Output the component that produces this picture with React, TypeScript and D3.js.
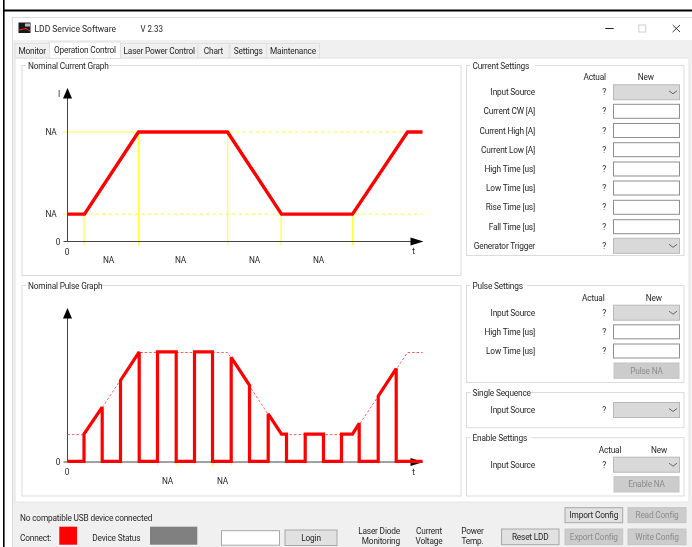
import React from "react";
import * as d3 from "d3";

// ---- data ----
const currentTimes = [0, 17, 71, 160, 214, 285, 340, 355];
const currentLevels = [1, 1, 4, 4, 1, 1, 4, 4];
const currentMarkers = [16.5, 71, 160.3, 213.5, 285];
const currentMarkerLevels = [1, 4, 4, 1, 1];
const currentSpanLabels = ["NA", "NA", "NA", "NA"];
const currentSpanTimes = [41, 113, 187, 251];
const pulseTimes = [0, 16.5, 16.5, 34.7, 34.7, 53, 53, 71.7, 71.7, 90, 90, 108.7, 108.7, 127, 127, 145, 145, 163.7, 163.7, 182, 182, 200.7, 200.7, 214, 219, 219, 237.7, 237.7, 256, 256, 274, 274, 285, 291.7, 291.7, 310.7, 310.7, 328.7, 328.7, 355];
const pulseLevels = [0, 0, 1, 1.98, 0, 0, 2.96, 4, 0, 0, 4, 4, 0, 0, 4, 4, 0, 0, 3.8, 2.78, 0, 0, 1.74, 1, 1, 0, 0, 1, 1, 0, 0, 1, 1, 1.39, 0, 0, 2.38, 3.39, 0, 0];
const pulseEdgeMarkers = [90, 108.7, 145, 163.7];
const pulseSpanLabels = ["NA", "NA"];
const pulseSpanTimes = [100, 155];
const currentRows = ["Input Source", "Current CW [A]", "Current High [A]", "Current Low [A]", "High Time [us]", "Low Time [us]", "Rise Time [us]", "Fall Time [us]", "Generator Trigger"];
const currentRowIsSelect = [true, false, false, false, false, false, false, false, true];
const currentRowY = [92.3, 111.3, 130.5, 149.7, 169, 188, 207.3, 226.7, 245.8];
const pulseRows = ["Input Source", "High Time [us]", "Low Time [us]"];
const pulseRowIsSelect = [true, false, false];
const pulseRowY = [312.7, 331.8, 351];
const tabNames = ["Monitor", "Operation Control", "Laser Power Control", "Chart", "Settings", "Maintenance"];
const tabEdges = [15, 49.5, 120.5, 198, 230, 266.5, 319.5];

// ---- scales ----
const x = d3.scaleLinear().domain([0, 355]).range([67.5, 422.5]);
const yCurrent = d3.scaleLinear().domain([0, 4]).range([241.5, 132]);
const yPulse = d3.scaleLinear().domain([0, 4]).range([462, 352.5]);

const FONT = "Roboto, 'Liberation Sans', Arial, sans-serif";
const INK = "#262626";
const RED = "#ff0000";
const YEL = "#ffff33";
const FS = 8.3;

function T({ x, y, a = "start", c = INK, s = FS, w, children }: any) {
  return (
    <text x={x} y={y} textAnchor={a} dominantBaseline="central" fontFamily={FONT} fontSize={s} fill={c} letterSpacing={w ? undefined : -0.18} textLength={w} lengthAdjust={w ? "spacingAndGlyphs" : undefined}>
      {children}
    </text>
  );
}

function Group({ x0, y0, x1, y1, title }: any) {
  const w = title.length * 3.7 + 5;
  return (
    <g>
      <rect x={x0} y={y0} width={x1 - x0} height={y1 - y0} fill="none" stroke="#dcdcdc" strokeWidth={1} />
      <rect x={x0 + 4} y={y0 - 3} width={w} height={6} fill="#fff" />
      <T x={x0 + 6} y={y0}>{title}</T>
    </g>
  );
}

function Select({ y }: any) {
  const chevron = d3.line()([[669, y - 1.5], [673, y + 1.5], [677, y - 1.5]]) as string;
  return (
    <g>
      <rect x={613.5} y={y - 7.5} width={66} height={15} fill="#d9d9d9" stroke="#b8b8b8" />
      <path d={chevron} fill="none" stroke="#666" strokeWidth={1} />
    </g>
  );
}

function Input({ y }: any) {
  return <rect x={613.5} y={y - 7} width={66} height={14} fill="#fff" stroke="#8e8e8e" />;
}

function Btn({ x0, x1, y0, y1, label, disabled = false }: any) {
  return (
    <g>
      <rect x={x0} y={y0} width={x1 - x0} height={y1 - y0} fill={disabled ? "#cccccc" : "#e1e1e1"} stroke={disabled ? "#c4c4c4" : "#a8a8a8"} />
      <T x={(x0 + x1) / 2} y={(y0 + y1) / 2} a="middle" c={disabled ? "#8c8c8c" : INK}>{label}</T>
    </g>
  );
}

function Rows({ rows, sel, ys }: any) {
  return rows.map((r: string, i: number) => (
    <g key={i}>
      <T x={535} y={ys[i]} a="end">{r}</T>
      <T x={604} y={ys[i]} a="middle">?</T>
      {sel[i] ? <Select y={ys[i]} /> : <Input y={ys[i]} />}
    </g>
  ));
}

function Axes({ y0, top }: any) {
  const ax = x(0);
  return (
    <g>
      <line x1={ax} x2={ax} y1={top + 8} y2={y0} stroke="#444" strokeWidth={1} />
      <line x1={ax - 4} x2={x(345)} y1={y0} y2={y0} stroke="#444" strokeWidth={1} />
      <path d={`M${ax - 4.5},${top + 10.5}L${ax},${top}L${ax + 4.5},${top + 10.5}Z`} fill="#000" />
      <path d={`M${x(343)},${y0 - 4}L${x(356)},${y0}L${x(343)},${y0 + 4}Z`} fill="#000" />
      <T x={58} y={y0} a="middle">0</T>
      <T x={67} y={y0 + 10} a="middle">0</T>
      <T x={x(346)} y={y0 + 9.5} a="middle">t</T>
    </g>
  );
}

export default function App() {
  const line = d3.line<number>().x((d) => x(currentTimes[d])).y((d) => yCurrent(currentLevels[d]));
  const currentPath = line(currentTimes.map((_, i) => i)) as string;
  const envLine = d3.line<number>().x((d) => x(currentTimes[d])).y((d) => yPulse(currentLevels[d]));
  const envPath = envLine(currentTimes.map((_, i) => i)) as string;
  const pulseLine = d3.line<number>().x((d) => x(pulseTimes[d])).y((d) => yPulse(pulseLevels[d]) - 0.6);
  const pulsePath = pulseLine(pulseTimes.map((_, i) => i)) as string;

  const hi = yCurrent(4);
  const lo = yCurrent(1);
  const z = yCurrent(0);

  return (
    <svg width={692} height={547} viewBox="0 0 692 547" style={{ position: "fixed", left: 0, top: 0, display: "block", filter: "blur(0.35px)" }}>
      <rect width={692} height={547} fill="#fff" />
      {/* black frame */}
      <rect x={3} y={9.5} width={689} height={2} fill="#000" />
      <rect x={3} y={0} width={1.6} height={547} fill="#000" />
      {/* window */}
      <rect x={12.5} y={17.5} width={680} height={530} fill="#fff" stroke="#dcdcdc" />
      <rect x={13} y={40} width={679} height={507} fill="#f0f0f0" />
      <rect x={15} y={58} width={674} height={444} fill="#fff" stroke="#e4e4e4" />
      {/* title bar */}
      <rect x={18.5} y={22.5} width={12} height={10.5} fill="#1a1a1a" />
      <path d="M19,30L26,28.5L30,31" fill="none" stroke="#f22" strokeWidth={1} />
      <rect x={25} y={23.5} width={5} height={3} fill="#bbb" />
      <T x={34.5} y={28.7} s={8.8} w={81.5}>LDD Service Software</T>
      <T x={140.5} y={28.7} s={8.8} w={22.5}>V 2.33</T>
      <line x1={605.3} x2={613.7} y1={28.5} y2={28.5} stroke="#222" strokeWidth={1} />
      <rect x={638.8} y={25} width={7} height={7} fill="none" stroke="#d0d0d0" />
      <path d="M672.7,25L680,32M680,25L672.7,32" stroke="#222" strokeWidth={0.9} />
      {/* tabs */}
      {tabNames.map((t, i) => {
        const active = i === 1;
        const x0 = tabEdges[i];
        const x1 = i === 3 ? 229 : tabEdges[i + 1];
        return (
          <g key={t}>
            <rect x={x0} y={active ? 42 : 43.5} width={x1 - x0} height={active ? 16.5 : 14.5} fill={active ? "#fff" : "#f0f0f0"} stroke="#e0e0e0" />
            <T x={(x0 + x1) / 2} y={active ? 49.5 : 50.8} a="middle">{t}</T>
          </g>
        );
      })}

      {/* graph groups */}
      <Group x0={22} y0={65.5} x1={461} y1={275.5} title="Nominal Current Graph" />
      <Group x0={22} y0={285.5} x1={461} y1={496} title="Nominal Pulse Graph" />

      {/* current graph */}
      <line x1={63} x2={x(71)} y1={hi} y2={hi} stroke={YEL} strokeWidth={1} />
      <line x1={x(71)} x2={x(355)} y1={hi} y2={hi} stroke={YEL} strokeWidth={1} strokeDasharray="3.5 3" />
      <line x1={63} x2={x(355)} y1={lo} y2={lo} stroke={YEL} strokeWidth={1} strokeDasharray="3.5 3" />
      {currentMarkers.map((t, i) => (
        <line key={t} x1={x(t)} x2={x(t)} y1={yCurrent(currentMarkerLevels[i])} y2={z + 4} stroke={YEL} strokeWidth={1.1} />
      ))}
      <Axes y0={z} top={88} />
      <path d={currentPath} fill="none" stroke={RED} strokeWidth={3.4} strokeLinejoin="miter" />
      <T x={51} y={132} a="middle">NA</T>
      <T x={51} y={214} a="middle">NA</T>
      <T x={59} y={94} a="middle">I</T>
      {currentSpanLabels.map((l, i) => (
        <T key={i} x={x(currentSpanTimes[i])} y={260} a="middle">{l}</T>
      ))}

      {/* pulse graph */}
      {pulseEdgeMarkers.map((t) => (
        <line key={t} x1={x(t)} x2={x(t)} y1={yPulse(0)} y2={yPulse(0) + 3.5} stroke={YEL} strokeWidth={1} />
      ))}
      <Axes y0={yPulse(0)} top={308} />
      <path d={envPath} fill="none" stroke="#ff5a5a" strokeWidth={1} strokeDasharray="2.5 2" />
      <path d={pulsePath} fill="none" stroke={RED} strokeWidth={3.2} strokeLinejoin="miter" strokeMiterlimit={2} />
      {pulseSpanLabels.map((l, i) => (
        <T key={i} x={x(pulseSpanTimes[i])} y={481} a="middle">{l}</T>
      ))}

      {/* current settings */}
      <Group x0={466.5} y0={65.5} x1={684} y1={255.5} title="Current Settings" />
      <T x={594.7} y={77} a="middle">Actual</T>
      <T x={645.7} y={77} a="middle">New</T>
      <Rows rows={currentRows} sel={currentRowIsSelect} ys={currentRowY} />

      {/* pulse settings */}
      <Group x0={466.5} y0={285.5} x1={684} y1={382.5} title="Pulse Settings" />
      <T x={593.3} y={298} a="middle">Actual</T>
      <T x={653.7} y={298} a="middle">New</T>
      <Rows rows={pulseRows} sel={pulseRowIsSelect} ys={pulseRowY} />
      <Btn x0={614} x1={679} y0={363} y1={378.3} label="Pulse NA" disabled />

      {/* single sequence */}
      <Group x0={466.5} y0={392.5} x1={684} y1={427.7} title="Single Sequence" />
      <Rows rows={["Input Source"]} sel={[true]} ys={[410]} />

      {/* enable settings */}
      <Group x0={466.5} y0={437.7} x1={684} y1={496} title="Enable Settings" />
      <T x={610} y={450} a="middle">Actual</T>
      <T x={659} y={450} a="middle">New</T>
      <Rows rows={["Input Source"]} sel={[true]} ys={[464.7]} />
      <Btn x0={614} x1={679} y0={476.7} y1={492} label="Enable NA" disabled />

      {/* status bar */}
      <T x={20} y={517.7}>No compatible USB device connected</T>
      <T x={20} y={537.7}>Connect:</T>
      <rect x={59.3} y={526.7} width={17.7} height={18} fill={RED} />
      <T x={92.3} y={537.7}>Device Status</T>
      <rect x={150} y={526.7} width={47.3} height={18} fill="#808080" />
      <rect x={221.5} y={530.7} width={58} height={14.5} fill="#fff" stroke="#a8a8a8" />
      <Btn x0={285} x1={337} y0={530} y1={545.5} label="Login" />
      <T x={400} y={531} a="end">Laser Diode</T>
      <T x={400} y={541} a="end">Monitoring</T>
      <T x={429} y={531} a="middle">Current</T>
      <T x={429} y={541} a="middle">Voltage</T>
      <T x={472.5} y={531} a="middle">Power</T>
      <T x={472.5} y={541} a="middle">Temp.</T>
      <Btn x0={501.5} x1={559} y0={529} y1={544.7} label="Reset LDD" />
      <Btn x0={565} x1={622.7} y0={507.7} y1={522.7} label="Import Config" />
      <Btn x0={628} x1={686} y0={507.7} y1={522.7} label="Read Config" disabled />
      <Btn x0={565} x1={622.7} y0={529} y1={544.7} label="Export Config" disabled />
      <Btn x0={628} x1={686} y0={529} y1={544.7} label="Write Config" disabled />
    </svg>
  );
}
